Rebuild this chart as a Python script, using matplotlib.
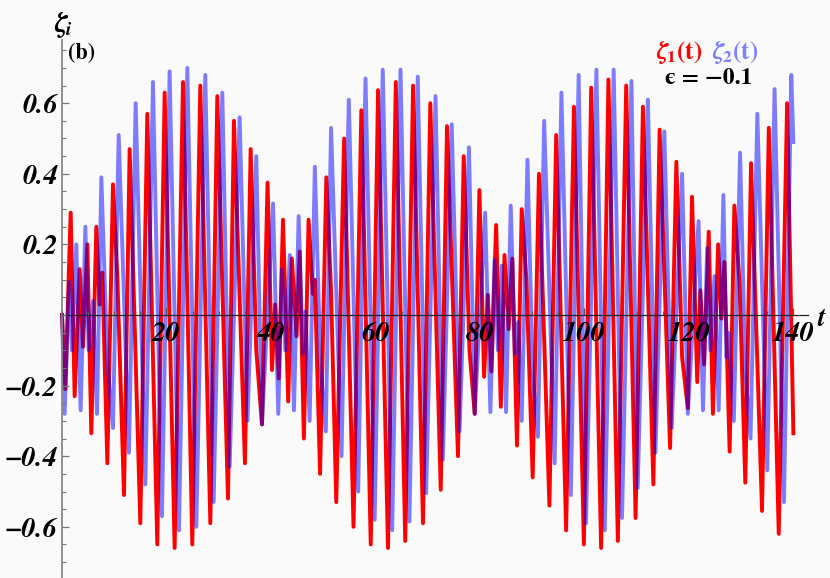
import matplotlib
matplotlib.use("Agg")
import matplotlib.pyplot as plt
from matplotlib.ticker import MultipleLocator
from matplotlib.font_manager import FontProperties

# extrema (t, value), zeta_1 (red) and zeta_2 (blue)
red_t = [0.0, 0.64, 1.66, 2.42, 3.38, 4.02, 4.85, 5.61, 6.57, 7.21, 7.72, 8.68, 9.76, 10.59,
         11.87, 12.95, 14.99, 16.33, 18.24, 19.65, 21.56, 23.16, 24.94, 26.47, 28.39, 29.73,
         31.77, 32.92, 35.02, 36.11, 37.19, 38.28, 39.35, 40.2, 40.8, 41.5, 42.3, 43.3, 44.0,
         44.9, 45.5, 46.3, 47.2, 48.0, 48.4, 49.4, 50.6, 51.5, 52.5, 54.0, 55.8, 57.3, 59.1,
         60.5, 62.4, 63.9, 65.7, 67.2, 69.1, 70.5, 72.5, 73.7, 75.8, 76.9, 78.0, 79.0, 79.9,
         80.8, 81.5, 82.2, 83.1, 84.0, 84.7, 85.5, 86.2, 87.1, 88.0, 88.9, 90.1, 91.3, 93.3,
         94.6, 96.5, 98.0, 99.9, 101.3, 103.2, 104.6, 106.4, 108.0, 109.8, 111.2, 113.2, 114.4,
         116.4, 117.6, 118.7, 119.8, 120.6, 121.6, 122.2, 122.9, 123.8, 124.6, 125.6, 126.2,
         126.8, 127.8, 128.7, 129.7, 130.8, 131.9, 134.0, 135.3, 137.2, 138.8, 140.0]
red_v = [0.0, -0.21, 0.29, -0.23, 0.13, -0.09, 0.20, -0.335, 0.25, 0.03, 0.12, -0.42, 0.37, 0.11,
         -0.51, 0.47, -0.59, 0.57, -0.65, 0.63, -0.66, 0.66, -0.65, 0.65, -0.59, 0.62,
         -0.52, 0.55, -0.42, 0.47, -0.10, -0.31, 0.375, -0.156, 0.03, -0.18, 0.27, -0.245, 0.16,
         -0.06, 0.18, -0.35, 0.27, 0.06, 0.10, -0.45, 0.39, 0.07, -0.53, 0.50, -0.60, 0.58, -0.65,
         0.637, -0.66, 0.66, -0.64, 0.65, -0.59, 0.60, -0.495, 0.535, -0.40, 0.45, -0.10, -0.28, 0.354,
         -0.175, 0.057, -0.16, 0.255, -0.26, 0.17, -0.04, 0.16, -0.37, 0.30, 0.10, -0.46, 0.40, -0.54,
         0.51, -0.61, 0.59, -0.65, 0.644, -0.66, 0.667, -0.64, 0.65, -0.575, 0.59, -0.48, 0.525,
         -0.377, 0.434, -0.12, -0.264, 0.335, -0.19, 0.07, -0.14, 0.236, -0.28, 0.20, -0.01,
         0.15, -0.387, 0.31, 0.09, -0.475, 0.43, -0.555, 0.53, -0.62, 0.60, -0.335]

blue_t = [0.0, 0.51, 1.34, 1.91, 2.74, 3.57, 4.47, 5.1, 5.93, 6.7, 7.53, 8.68, 9.76, 10.85,
          12.82, 14.1, 15.95, 17.41, 19.14, 20.6, 22.39, 23.99, 25.71, 27.43, 29.03, 30.69,
          32.09, 34.0, 35.5, 37.19, 38.28, 40.4, 41.4, 42.1, 42.75, 43.6, 44.4, 45.3, 46.1,
          46.6, 47.4, 48.4, 49.5, 50.5, 51.5, 53.5, 54.9, 56.7, 58.1, 59.85, 61.4, 63.2, 64.8,
          66.5, 68.1, 69.7, 71.5, 72.9, 74.6, 76.1, 77.9, 79.0, 81.0, 82.0, 82.8, 83.45, 84.2,
          85.0, 85.9, 86.7, 87.3, 88.0, 89.1, 90.1, 91.1, 92.3, 94.3, 95.6, 97.4, 98.9, 100.3,
          102.3, 103.9, 105.6, 107.2, 109.0, 110.2, 112.15, 113.6, 115.3, 116.7, 118.7, 119.8,
          121.85, 122.7, 123.5, 124.1, 124.9, 125.7, 126.6, 127.2, 127.6, 128.6, 129.8, 130.8,
          131.8, 133.1, 135.0, 136.4, 138.2, 139.6, 140.0]
blue_v = [0.0, -0.28, 0.094, -0.10, 0.20, -0.27, 0.25, -0.10, 0.04, -0.28, 0.39, -0.13, -0.32, 0.51,
          -0.39, 0.60, -0.48, 0.66, -0.57, 0.69, -0.61, 0.70, -0.60, 0.68, -0.53, 0.63,
          -0.43, 0.56, -0.30, 0.45, -0.31, 0.316, -0.28, 0.13, -0.10, 0.17, -0.27, 0.28, -0.11,
          0.01, -0.30, 0.42, -0.15, -0.33, 0.53, -0.40, 0.61, -0.50, 0.67, -0.58, 0.695, -0.61, 0.695,
          -0.585, 0.675, -0.505, 0.62, -0.41, 0.54, -0.33, 0.475, -0.28, 0.29, -0.275, 0.156, -0.10, 0.14,
          -0.275, 0.31, -0.11, -0.02, -0.30, 0.44, -0.165, -0.345, 0.55, -0.42, 0.63, -0.51, 0.68, -0.59,
          0.695, -0.61, 0.695, -0.575, 0.663, -0.49, 0.61, -0.39, 0.52, -0.32, 0.40, -0.28,
          0.266, -0.27, 0.19, -0.10, 0.11, -0.27, 0.34, -0.12, -0.05, -0.30, 0.46, -0.16,
          -0.35, 0.57, -0.44, 0.64, -0.53, 0.68, 0.49]

x_ticks = [20, 40, 60, 80, 100, 120, 140]
y_ticks = [-0.6, -0.4, -0.2, 0.2, 0.4, 0.6]

# Times-like bold (italic) look of the original
plt.rcParams["mathtext.fontset"] = "custom"
plt.rcParams["mathtext.it"] = "STIXGeneral:italic:bold"
plt.rcParams["mathtext.rm"] = "STIXGeneral:bold"
plt.rcParams["mathtext.bf"] = "STIXGeneral:bold"
serif = ["STIXGeneral", "DejaVu Serif"]
tick_font = FontProperties(family=serif, weight="bold", style="italic", size=20.5)
bold_font = FontProperties(family=serif, weight="bold", size=17)

fig = plt.figure(figsize=(8.3, 5.78), dpi=100, facecolor="#fafafa")
ax = fig.add_axes([62 / 830, 0, 746 / 830, 538 / 578])
ax.set_facecolor("#fafafa")
ax.set_axisbelow(False)   # tick labels sit on top of the curves

ax.plot(red_t, red_v, color="#ff0000", lw=2.8, solid_joinstyle="round", clip_on=False)
ax.plot(blue_t, blue_v, color="#0000ff", alpha=0.5, lw=2.8, solid_joinstyle="round", clip_on=False)

ax.set_xlim(0, 142.8)
ax.set_ylim(-0.745, 0.779)

for s in ["top", "right"]:
    ax.spines[s].set_visible(False)
ax.spines["bottom"].set_position(("data", 0))
ax.spines["bottom"].set_color("#222222")
ax.spines["bottom"].set_linewidth(0.9)
ax.spines["left"].set_color("#888888")
ax.spines["left"].set_linewidth(1.3)

ax.set_xticks(x_ticks)
ax.set_xticklabels([str(v) for v in x_ticks], fontproperties=tick_font)
ax.xaxis.set_minor_locator(MultipleLocator(5))
ax.set_yticks(y_ticks)
ax.set_yticklabels([f"{v:.1f}".replace("-", "\u2212") for v in y_ticks], fontproperties=tick_font)
ax.yaxis.set_minor_locator(MultipleLocator(0.05))

ax.tick_params(axis="x", which="major", direction="in", length=5, width=0.9, color="#555555", pad=4)
ax.tick_params(axis="x", which="minor", direction="in", length=3, width=0.8, color="#555555")
ax.tick_params(axis="y", which="major", direction="in", length=5, width=0.9, color="#777777", pad=3)
ax.tick_params(axis="y", which="minor", direction="in", length=3, width=0.8, color="#777777")

# axis names
fig.text(63 / 830, 1 - 25 / 578, r"$\zeta_i$", fontsize=20, ha="center", va="center")
fig.text(822 / 830, 1 - 318 / 578, r"$t$", fontsize=20, ha="center", va="center")

fig.text(68 / 830, 1 - 54 / 578, "(b)", fontproperties=FontProperties(
    family=serif, weight="bold", size=16), va="center", ha="left")

# legend
fig.text(702 / 830, 1 - 52 / 578, r"$\zeta_1\mathrm{(t)}$", color="#ff0000",
         fontsize=18, ha="right", va="center")
fig.text(712 / 830, 1 - 52 / 578, r"$\zeta_2\mathrm{(t)}$", color="#8080ff",
         fontsize=18, ha="left", va="center")
fig.text(709 / 830, 1 - 79 / 578, "\u03f5 = \u22120.1", fontproperties=bold_font,
         ha="center", va="center")

fig.savefig("out.png", dpi=100, facecolor=fig.get_facecolor())
